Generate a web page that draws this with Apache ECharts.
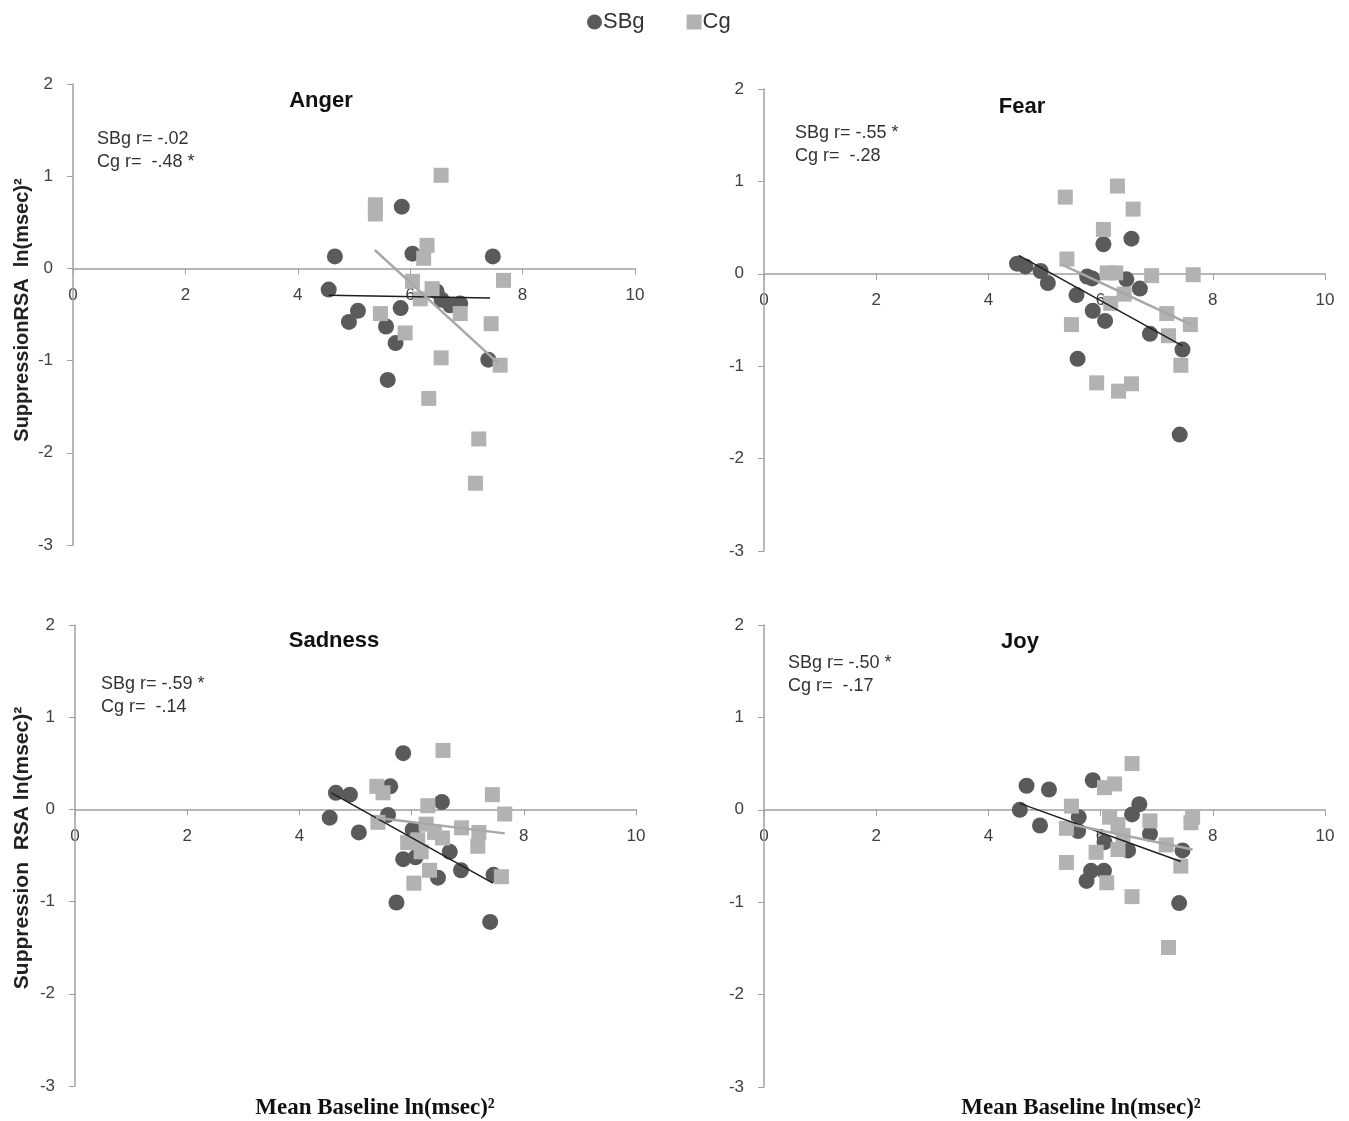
<!DOCTYPE html>
<html>
<head>
<meta charset="utf-8">
<script src="https://cdn.jsdelivr.net/npm/echarts@6/dist/echarts.min.js"></script>
<style>html,body{margin:0;padding:0;background:#fff}#c{width:1349px;height:1121px}</style>
</head>
<body>
<div id="c"></div>
<script>
// ---- tick labels ----
const xTicks = [0, 2, 4, 6, 8, 10];
const yTicks = [-3, -2, -1, 0, 1, 2];

// ---- panel names ----
const panelTitles = ['Anger', 'Fear', 'Sadness', 'Joy'];
const sbgLabels = ['SBg r= -.02', 'SBg r= -.55 *', 'SBg r= -.59 *', 'SBg r= -.50 *'];
const cgLabels = ['Cg r=  -.48 *', 'Cg r=  -.28', 'Cg r=  -.14', 'Cg r=  -.17'];

// ---- Anger ----
const angerSBg = [[5.85,0.67],[4.66,0.13],[6.04,0.16],[7.47,0.13],[4.55,-0.23],[5.07,-0.46],[4.91,-0.58],[5.83,-0.43],[5.57,-0.63],[5.74,-0.81],[5.60,-1.21],[6.47,-0.25],[6.56,-0.34],[6.71,-0.40],[6.89,-0.38],[7.39,-0.99]];
const angerCg = [[6.55,1.01],[5.38,0.69],[5.38,0.59],[6.30,0.25],[6.24,0.11],[7.66,-0.13],[6.04,-0.14],[6.39,-0.22],[6.18,-0.33],[6.89,-0.49],[5.47,-0.49],[5.91,-0.70],[7.44,-0.60],[6.55,-0.97],[7.60,-1.05],[6.33,-1.41],[7.22,-1.85],[7.16,-2.33]];
const angerSBgTrend = [[4.55,-0.29],[7.42,-0.32]];
const angerCgTrend = [[5.37,0.20],[7.57,-1.03]];

// ---- Fear ----
const fearSBg = [[4.51,0.11],[4.66,0.08],[4.93,0.03],[5.06,-0.10],[5.57,-0.23],[5.76,-0.03],[5.85,-0.05],[6.05,0.32],[6.55,0.38],[6.46,-0.06],[6.70,-0.16],[5.86,-0.40],[6.08,-0.51],[6.88,-0.65],[7.46,-0.82],[5.59,-0.92],[7.41,-1.74]];
const fearCg = [[6.30,0.95],[5.37,0.83],[6.58,0.70],[6.05,0.48],[5.40,0.16],[6.12,0.01],[6.27,0.01],[6.91,-0.02],[7.65,-0.01],[6.42,-0.22],[6.18,-0.32],[7.18,-0.43],[7.60,-0.55],[5.48,-0.55],[7.21,-0.67],[7.43,-0.99],[5.93,-1.18],[6.55,-1.19],[6.32,-1.27]];
const fearSBgTrend = [[4.54,0.20],[7.46,-0.78]];
const fearCgTrend = [[5.31,0.10],[7.61,-0.55]];

// ---- Sadness ----
const sadnessSBg = [[5.85,0.61],[4.65,0.18],[4.90,0.16],[5.62,0.25],[6.54,0.08],[4.54,-0.09],[5.06,-0.25],[5.58,-0.06],[6.02,-0.22],[6.68,-0.46],[5.85,-0.54],[6.07,-0.52],[6.47,-0.74],[6.88,-0.66],[7.46,-0.71],[5.73,-1.01],[7.40,-1.22]];
const sadnessCg = [[6.56,0.64],[5.38,0.25],[5.49,0.18],[6.29,0.04],[7.44,0.16],[7.66,-0.05],[5.40,-0.14],[6.26,-0.16],[6.41,-0.25],[6.55,-0.31],[6.89,-0.20],[7.20,-0.25],[7.18,-0.40],[5.93,-0.36],[6.11,-0.33],[6.17,-0.46],[6.32,-0.66],[7.60,-0.73],[6.04,-0.80]];
const sadnessSBgTrend = [[4.57,0.18],[7.45,-0.80]];
const sadnessCgTrend = [[5.37,-0.09],[7.66,-0.26]];

// ---- Joy ----
const joySBg = [[4.68,0.26],[5.08,0.22],[5.86,0.32],[4.56,0.00],[4.92,-0.17],[5.61,-0.08],[5.60,-0.23],[6.69,0.06],[6.56,-0.05],[6.88,-0.26],[6.07,-0.35],[6.49,-0.44],[7.46,-0.44],[5.83,-0.66],[6.06,-0.66],[5.75,-0.77],[7.40,-1.01]];
const joyCg = [[6.56,0.50],[6.07,0.24],[6.25,0.28],[5.48,0.04],[6.16,-0.08],[6.31,-0.16],[6.88,-0.12],[7.64,-0.08],[7.61,-0.14],[5.39,-0.20],[6.40,-0.28],[6.31,-0.43],[5.92,-0.46],[7.17,-0.38],[7.43,-0.61],[5.39,-0.57],[6.11,-0.79],[6.56,-0.94],[7.21,-1.49]];
const joySBgTrend = [[4.56,0.07],[7.43,-0.56]];
const joyCgTrend = [[5.48,-0.16],[7.64,-0.43]];

const panels = [
  {sbg: angerSBg, cg: angerCg, sbgT: angerSBgTrend, cgT: angerCgTrend},
  {sbg: fearSBg, cg: fearCg, sbgT: fearSBgTrend, cgT: fearCgTrend},
  {sbg: sadnessSBg, cg: sadnessCg, sbgT: sadnessSBgTrend, cgT: sadnessCgTrend},
  {sbg: joySBg, cg: joyCg, sbgT: joySBgTrend, cgT: joyCgTrend}
];

// ---- layout ----
const grids = [
  {left: 73, top: 84, width: 562, height: 461},
  {left: 764, top: 89, width: 561, height: 462},
  {left: 75, top: 625, width: 561, height: 461},
  {left: 764, top: 625, width: 561, height: 462}
];
const titlePos = [[321,101],[1022,107],[334,641],[1020,642]];
const annPos = [[97,139],[795,133],[101,684],[788,663]];

const SBG_COLOR = '#5a5a5a';
const CG_COLOR = '#b2b2b2';
const AXIS_COLOR = '#a0a0a0';
const FONT = '"Liberation Sans", Arial, sans-serif';

const xAxes = [], yAxes = [], series = [], graphics = [];
grids.forEach((g, i) => {
  xAxes.push({
    type: 'value', gridIndex: i,
    min: xTicks[0], max: xTicks[xTicks.length - 1], interval: xTicks[1] - xTicks[0],
    axisLine: {show: true, onZero: true, onZeroAxisIndex: i, lineStyle: {color: AXIS_COLOR, width: 1.5}},
    axisTick: {show: true, inside: false, length: 6, lineStyle: {color: AXIS_COLOR}},
    axisLabel: {show: false},
    splitLine: {show: false}
  });
  yAxes.push({
    type: 'value', gridIndex: i,
    min: yTicks[0], max: yTicks[yTicks.length - 1], interval: yTicks[1] - yTicks[0],
    axisLine: {show: true, onZero: false, lineStyle: {color: AXIS_COLOR, width: 1.5}},
    axisTick: {show: true, inside: false, length: 6, lineStyle: {color: AXIS_COLOR}},
    axisLabel: {color: '#404040', fontSize: 17, fontFamily: FONT, margin: 20},
    splitLine: {show: false}
  });
  const p = panels[i];
  series.push({
    name: 'SBg', type: 'scatter', xAxisIndex: i, yAxisIndex: i, data: p.sbg,
    symbol: 'circle', symbolSize: 16, itemStyle: {color: SBG_COLOR, opacity: 1}, z: 2
  });
  series.push({
    name: 'Cg', type: 'scatter', xAxisIndex: i, yAxisIndex: i, data: p.cg,
    symbol: 'rect', symbolSize: 15, itemStyle: {color: CG_COLOR, opacity: 1}, z: 3
  });
  series.push({
    name: 'SBg trend', type: 'line', xAxisIndex: i, yAxisIndex: i, data: p.sbgT,
    symbol: 'none', lineStyle: {color: '#1e1e1e', width: 1.5}, z: 4, silent: true
  });
  series.push({
    name: 'Cg trend', type: 'line', xAxisIndex: i, yAxisIndex: i, data: p.cgT,
    symbol: 'none', lineStyle: {color: '#a8a8a8', width: 2.5}, z: 4, silent: true
  });
  graphics.push({
    type: 'text', x: titlePos[i][0], y: titlePos[i][1],
    style: {text: panelTitles[i], font: 'bold 22px ' + FONT, fill: '#111', align: 'center', verticalAlign: 'middle'}
  });
  graphics.push({
    type: 'text', x: annPos[i][0], y: annPos[i][1],
    style: {text: sbgLabels[i], font: '18px ' + FONT, fill: '#333', align: 'left', verticalAlign: 'middle'}
  });
  graphics.push({
    type: 'text', x: annPos[i][0], y: annPos[i][1] + 23,
    style: {text: cgLabels[i], font: '18px ' + FONT, fill: '#333', align: 'left', verticalAlign: 'middle'}
  });
});

// axis names
graphics.push({
  type: 'text', x: 22, y: 310, rotation: Math.PI / 2,
  style: {text: 'SuppressionRSA  ln(msec)²', font: 'bold 20px ' + FONT, fill: '#222', align: 'center', verticalAlign: 'middle'}
});
graphics.push({
  type: 'text', x: 22, y: 848, rotation: Math.PI / 2,
  style: {text: 'Suppression  RSA ln(msec)²', font: 'bold 21px ' + FONT, fill: '#222', align: 'center', verticalAlign: 'middle'}
});
graphics.push({
  type: 'text', x: 375, y: 1108,
  style: {text: 'Mean Baseline ln(msec)²', font: 'bold 23px "Liberation Serif", "Times New Roman", serif', fill: '#111', align: 'center', verticalAlign: 'middle'}
});
graphics.push({
  type: 'text', x: 1081, y: 1108,
  style: {text: 'Mean Baseline ln(msec)²', font: 'bold 23px "Liberation Serif", "Times New Roman", serif', fill: '#111', align: 'center', verticalAlign: 'middle'}
});

const chart = echarts.init(document.getElementById('c'), null, {renderer: 'canvas'});
chart.setOption({
  animation: false,
  backgroundColor: '#fff',
  legend: {
    top: 6, left: 582,
    data: [{name: 'SBg', icon: 'circle'}, {name: 'Cg', icon: 'rect'}],
    itemWidth: 15, itemHeight: 15, itemGap: 42,
    textStyle: {fontSize: 22, fontFamily: FONT, color: '#333', padding: [0, 0, 0, -4]}
  },
  grid: grids,
  xAxis: xAxes,
  yAxis: yAxes,
  series: series
});

// x tick labels placed just under the zero line, positioned by the library's scales
grids.forEach((g, i) => {
  xTicks.forEach(t => {
    const pt = chart.convertToPixel({gridIndex: i}, [t, 0]);
    graphics.push({
      type: 'text', x: pt[0], y: pt[1] + 27, silent: true, z: 0,
      style: {text: String(t), font: '17px ' + FONT, fill: '#404040', align: 'center', verticalAlign: 'middle'}
    });
  });
});
chart.setOption({graphic: {elements: graphics, z: 0}});
</script>
</body>
</html>
